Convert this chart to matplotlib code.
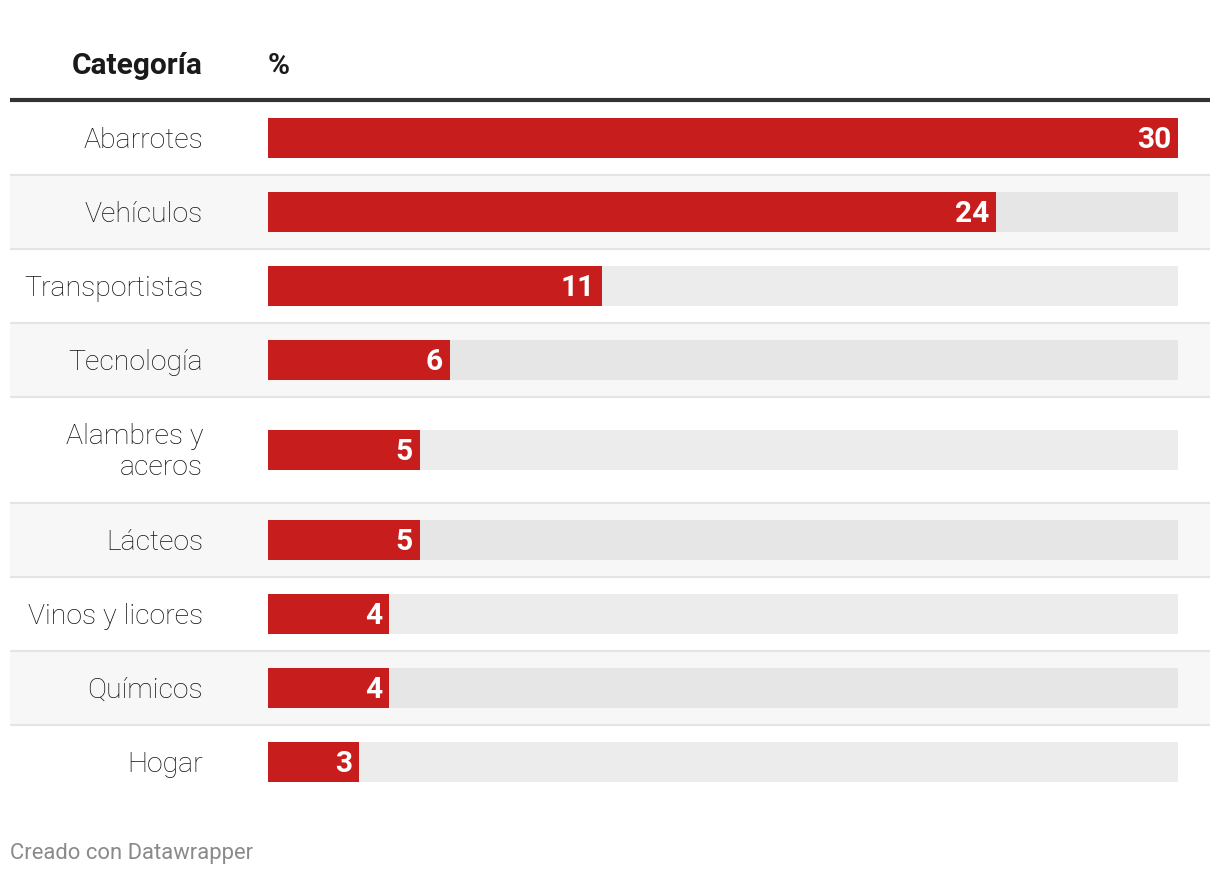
import matplotlib
matplotlib.use("Agg")
import matplotlib.pyplot as plt

categorias = ["Abarrotes", "Vehículos", "Transportistas", "Tecnología",
              "Alambres y\naceros", "Lácteos", "Vinos y licores", "Químicos", "Hogar"]
valores = [30, 24, 11, 6, 5, 5, 4, 4, 3]
maximo = 30

# row heights in pixels (the two-line label makes one row taller)
alturas = [74, 74, 74, 74, 106, 74, 74, 74, 74]

W, H = 1220, 874
plt.rcParams['font.family'] = ['Roboto', 'DejaVu Sans']

fig = plt.figure(figsize=(W / 100, H / 100), dpi=100)
ax = fig.add_axes([268 / W, 0, 910 / W, 1])
ax.set_xlim(0, maximo)
ax.set_ylim(H, 0)
ax.axis('off')

def px2x(px):
  return (px - 268) / 910 * maximo

red = '#c71e1d'
top = 101
y0 = top
centros = []
for i, h in enumerate(alturas):
  c = y0 + h / 2
  centros.append(c)
  if i % 2 == 1:
    ax.barh(c, px2x(1210) - px2x(10), height=h, left=px2x(10),
            color='#f7f7f7', clip_on=False, zorder=0)
    trackcol = '#e6e6e6'
  else:
    trackcol = '#ececec'
  if i > 0:
    ax.plot([px2x(10), px2x(1210)], [y0, y0], color='#e5e5e5', lw=1.6,
            clip_on=False, zorder=1, solid_capstyle='butt')
  ax.barh(c, maximo, height=40, color=trackcol, zorder=2)
  y0 += h

ax.barh(centros, valores, height=40, color=red, zorder=3)

for c, v, cat in zip(centros, valores, categorias):
  ax.annotate(str(v), (v, c + 2), xytext=(-5, 0), textcoords='offset points',
              ha='right', va='center', color='white', fontsize=21.5,
              fontweight='bold', zorder=4)
  ax.text(px2x(203), c + 2, cat, ha='right', va='center', fontsize=20.5,
          fontweight='light', color='#111111', linespacing=1.15)

# header
ax.plot([px2x(10), px2x(1210)], [100, 100], color='#333333', lw=3,
        clip_on=False, solid_capstyle='butt')
ax.text(px2x(203), 66, "Categoría", ha='right', va='center', fontsize=21.5,
        fontweight='bold', color='#1a1a1a')
ax.text(0, 66, "%", ha='left', va='center', fontsize=21.5,
        fontweight='bold', color='#1a1a1a')

ax.text(px2x(10), 853, "Creado con Datawrapper", ha='left', va='center',
        fontsize=15.8, color='#8a8a8a')

fig.savefig("out.png", dpi=100)
